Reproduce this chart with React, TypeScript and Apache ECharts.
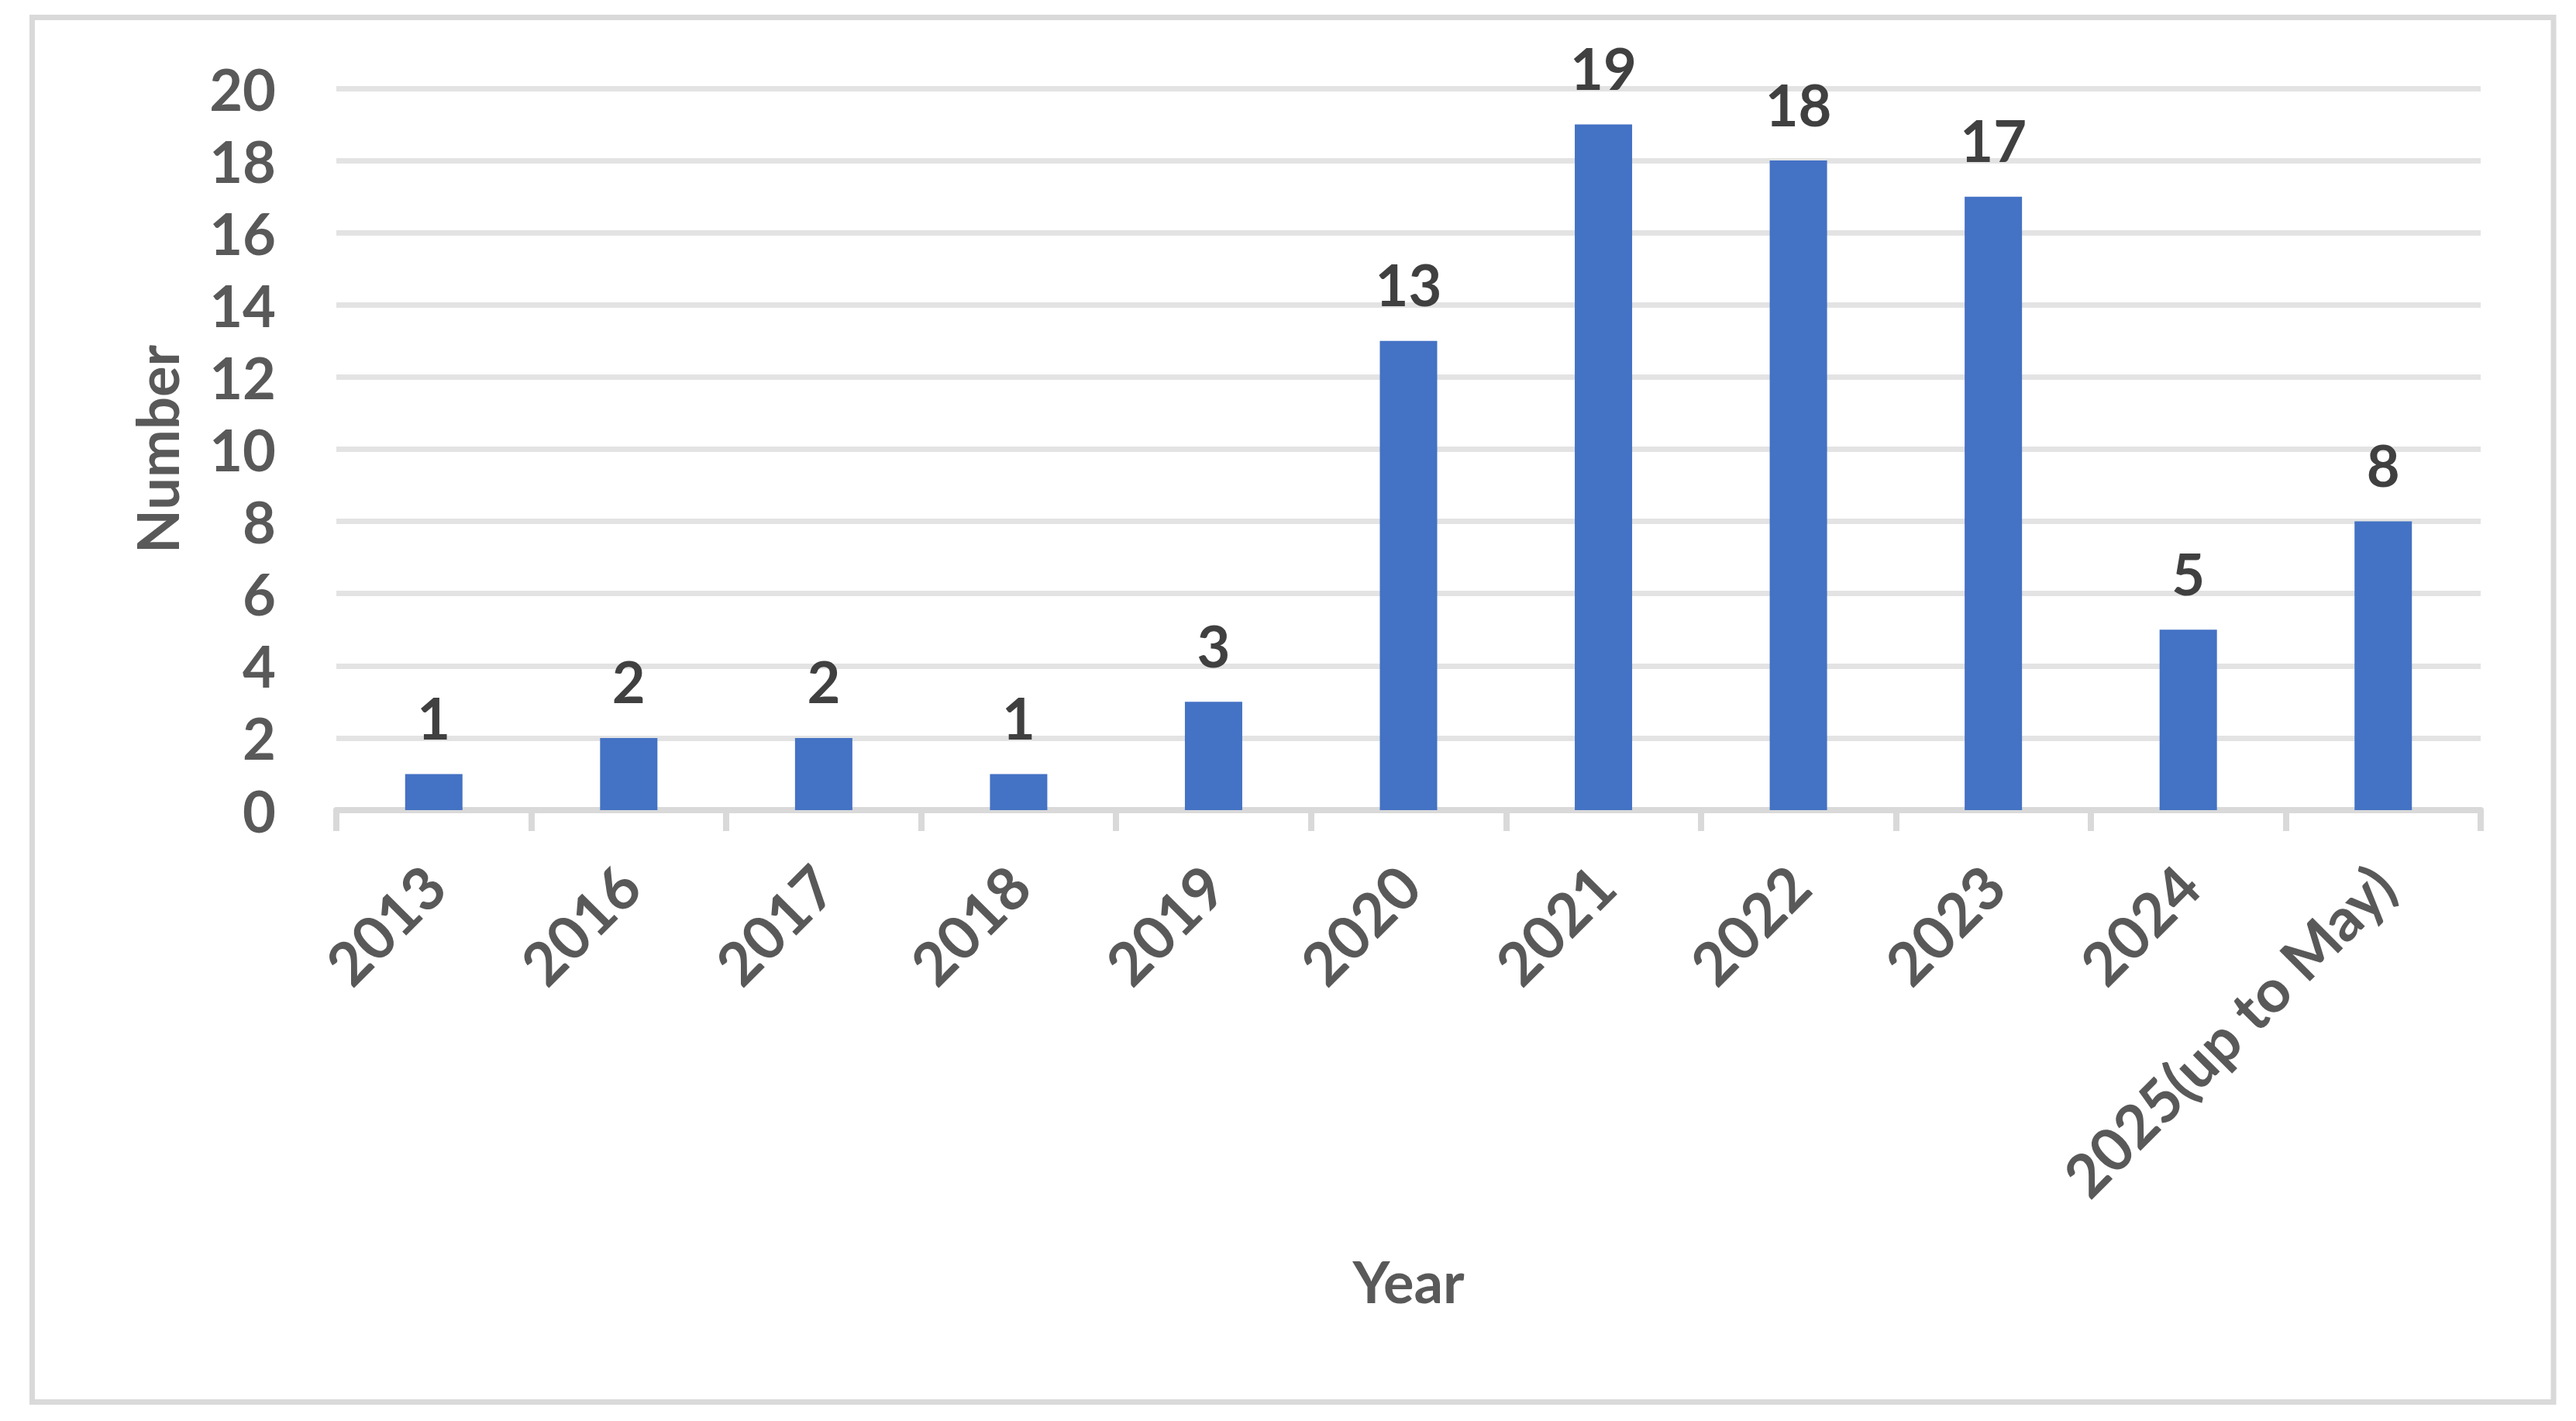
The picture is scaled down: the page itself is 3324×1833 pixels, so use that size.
import React, { useEffect, useRef } from "react";
import * as echarts from "echarts";

const categories: string[] = [
  "2013",
  "2016",
  "2017",
  "2018",
  "2019",
  "2020",
  "2021",
  "2022",
  "2023",
  "2024",
  "2025(up to May)",
];
const counts: number[] = [1, 2, 2, 1, 3, 13, 19, 18, 17, 5, 8];
const yMin = 0;
const yMax = 20;
const yStep = 2;
const xTitle = "Year";
const yTitle = "Number";

const FONT = "Lato, 'Open Sans', sans-serif";

export default function App() {
  const ref = useRef<HTMLDivElement>(null);
  useEffect(() => {
    if (!ref.current) return;
    const chart = echarts.init(ref.current, undefined, { renderer: "svg" });
    chart.setOption({
      animation: false,
      backgroundColor: "#ffffff",
      textStyle: { fontFamily: FONT },
      grid: { left: 434, right: 123, top: 114, bottom: 788, containLabel: false },
      graphic: [
        {
          type: "rect",
          shape: { x: 41.5, y: 22.5, width: 3253.5, height: 1786 },
          style: { fill: "none", stroke: "#d9d9d9", lineWidth: 7 },
          silent: true,
        },
      ],
      xAxis: {
        type: "category",
        data: categories,
        name: xTitle,
        nameLocation: "middle",
        nameGap: 570,
        nameTextStyle: { color: "#595959", fontSize: 74, fontWeight: "bold", fontFamily: FONT },
        axisLine: { show: true, lineStyle: { color: "#d9d9d9", width: 8 } },
        axisTick: { show: true, alignWithLabel: false, length: 27, lineStyle: { color: "#d9d9d9", width: 8 } },
        axisLabel: {
          interval: 0,
          rotate: 45,
          margin: 84,
          color: "#595959",
          fontSize: 77,
          fontWeight: "bold",
          fontFamily: FONT,
        },
        splitLine: { show: false },
      },
      yAxis: {
        type: "value",
        min: yMin,
        max: yMax,
        interval: yStep,
        name: yTitle,
        nameLocation: "middle",
        nameGap: 195,
        nameRotate: 90,
        nameTextStyle: { color: "#595959", fontSize: 74, fontWeight: "bold", fontFamily: FONT },
        axisLine: { show: false },
        axisTick: { show: false },
        axisLabel: { margin: 78, color: "#595959", fontSize: 74, fontWeight: "bold", fontFamily: FONT },
        splitLine: { show: true, lineStyle: { color: "#e3e3e3", width: 7 } },
      },
      series: [
        {
          type: "bar",
          data: counts,
          barWidth: 74,
          itemStyle: { color: "#4472C4" },
          label: {
            show: true,
            position: "top",
            distance: 36,
            color: "#404040",
            fontSize: 74,
            fontWeight: "bold",
            fontFamily: FONT,
          },
        },
      ],
    });
    return () => chart.dispose();
  }, []);
  return (
    <div
      ref={ref}
      style={{ position: "fixed", left: 0, top: 0, width: 3324, height: 1833, background: "#fff" }}
    />
  );
}
